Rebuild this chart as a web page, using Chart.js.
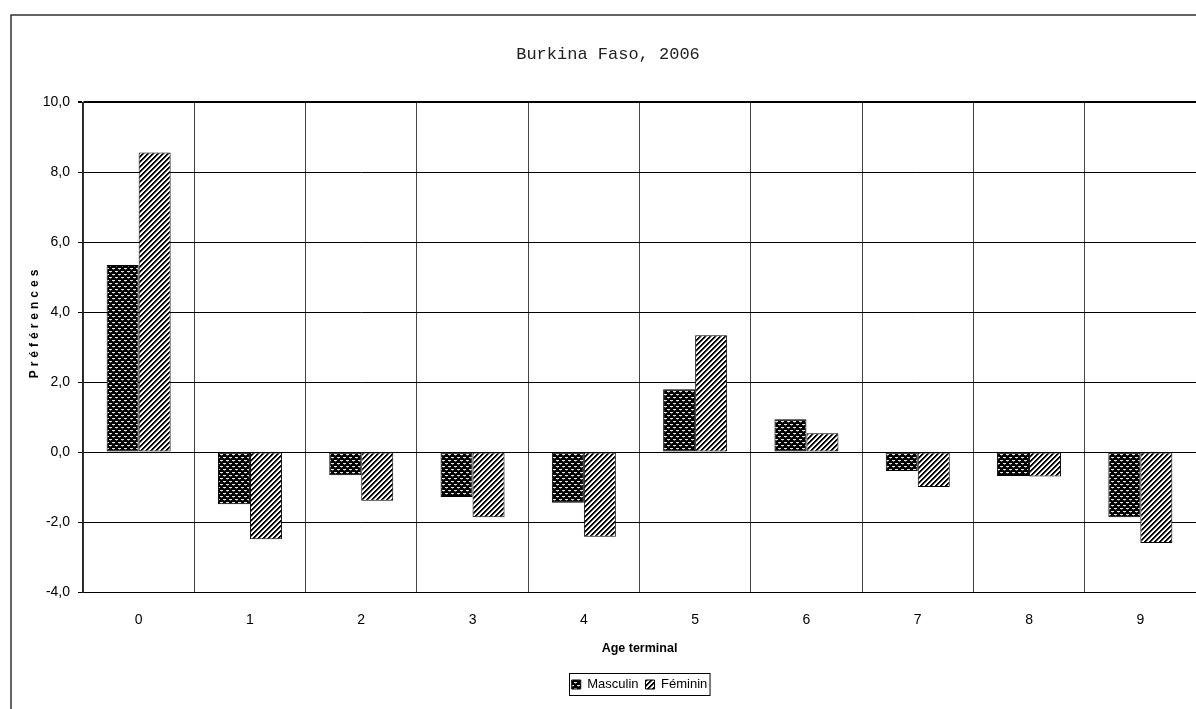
<!DOCTYPE html>
<html>
<head>
<meta charset="utf-8">
<script src="https://cdn.jsdelivr.net/npm/chart.js@4.4.0/dist/chart.umd.min.js"></script>
<style>
html, body { margin: 0; padding: 0; background: #fff; overflow: hidden; }
#wrap { width: 1196px; height: 709px; position: relative; }
</style>
</head>
<body>
<div id="wrap"><canvas id="myChart" width="1196" height="709"></canvas></div>
<script>
var categories = ["0", "1", "2", "3", "4", "5", "6", "7", "8", "9"];
var masculin = [5.35, -1.49, -0.66, -1.28, -1.45, 1.80, 0.94, -0.54, -0.68, -1.86];
var feminin = [8.57, -2.49, -1.39, -1.86, -2.42, 3.34, 0.54, -1.00, -0.70, -2.60];
var seriesNames = ["Masculin", "Féminin"];
var yTicks = [-4, -2, 0, 2, 4, 6, 8, 10];

var sans = "'Liberation Sans', Arial, sans-serif";

// motif "briques" : fond noir, petits ovales clairs en quinconce
function makeDots() {
    var c = document.createElement("canvas");
    c.width = 6; c.height = 6;
    var g = c.getContext("2d");
    g.fillStyle = "#000";
    g.fillRect(0, 0, 6, 6);
    g.fillStyle = "#e4e4e4";
    g.fillRect(1, 1, 3, 1);
    g.fillRect(4, 4, 2, 1);
    g.fillRect(0, 4, 1, 1);
    g.fillStyle = "#666";
    g.fillRect(2, 2, 1, 1);
    g.fillRect(5, 5, 1, 1);
    return g.createPattern(c, "repeat");
}

// motif hachures diagonales "/"
function makeStripes() {
    var c = document.createElement("canvas");
    c.width = 5; c.height = 5;
    var g = c.getContext("2d");
    for (var x = 0; x < 5; x++) {
        for (var y = 0; y < 5; y++) {
            var k = (x + y) % 5;
            g.fillStyle = k < 2 ? "#000" : (k == 2 ? "#888" : "#fff");
            g.fillRect(x, y, 1, 1);
        }
    }
    return g.createPattern(c, "repeat");
}

var framePlugin = {
    id: "frame",
    beforeDraw: function (chart) {
        var ctx = chart.ctx;
        ctx.save();
        ctx.fillStyle = "#fff";
        ctx.fillRect(0, 0, chart.width, chart.height);
        ctx.strokeStyle = "#333";
        ctx.lineWidth = 1.5;
        ctx.strokeRect(11, 15, 1400, 900);
        ctx.restore();
    },
    afterDraw: function (chart) {
        var ctx = chart.ctx;
        // titre vertical espacé
        ctx.save();
        ctx.translate(35, 324);
        ctx.rotate(-Math.PI / 2);
        ctx.font = "bold 12px " + sans;
        ctx.letterSpacing = "4px";
        ctx.fillStyle = "#000";
        ctx.textAlign = "center";
        ctx.textBaseline = "middle";
        ctx.fillText("Préférences", 2, 0);
        ctx.restore();
        // cadre de la légende
        var boxes = chart.legend.legendHitBoxes;
        if (boxes && boxes.length) {
            var l = 1e9, r = -1e9, t = 1e9, b = -1e9;
            boxes.forEach(function (h) {
                l = Math.min(l, h.left); r = Math.max(r, h.left + h.width);
                t = Math.min(t, h.top); b = Math.max(b, h.top + h.height);
            });
            ctx.save();
            ctx.strokeStyle = "#000";
            ctx.lineWidth = 1;
            ctx.strokeRect(Math.round(l) - 2.5, Math.round(t) - 4.5, r - l + 5, b - t + 9);
            ctx.restore();
        }
    }
};

function init_chart() {
    var ctx = document.getElementById("myChart").getContext("2d");
    window.myChart = new Chart(ctx, {
        type: "bar",
        data: {
            labels: categories,
            datasets: [
                {
                    label: seriesNames[0],
                    data: masculin,
                    backgroundColor: makeDots(),
                    borderColor: "#000",
                    borderWidth: 1,
                    borderSkipped: false,
                    barPercentage: 1,
                    categoryPercentage: 0.575,
                },
                {
                    label: seriesNames[1],
                    data: feminin,
                    backgroundColor: makeStripes(),
                    borderColor: "#000",
                    borderWidth: 1,
                    borderSkipped: false,
                    barPercentage: 1,
                    categoryPercentage: 0.575,
                },
            ],
        },
        options: {
            responsive: false,
            animation: false,
            devicePixelRatio: 1,
            layout: { padding: { left: 20, right: 0, top: 0, bottom: 8 } },
            scales: {
                x: {
                    afterFit: function (scale) { scale.height = 79; },
                    grid: { offset: true, color: "#444", lineWidth: 1, drawTicks: false },
                    border: { display: true, color: "#000", width: 1 },
                    ticks: { color: "#000", font: { family: sans, size: 14 }, padding: 20 },
                    title: {
                        display: true,
                        text: "Age terminal",
                        color: "#000",
                        font: { family: sans, size: 12.5, weight: "bold" },
                        padding: { top: 8, bottom: 15 },
                    },
                },
                y: {
                    min: yTicks[0],
                    max: yTicks[yTicks.length - 1],
                    afterFit: function (scale) { scale.width = 63; },
                    afterBuildTicks: function (scale) {
                        scale.ticks = yTicks.map(function (v) { return { value: v }; });
                    },
                    grid: {
                        color: "#000",
                        lineWidth: function (c) { return c.tick && c.tick.value == 10 ? 2 : 1; },
                        tickLength: 5,
                    },
                    border: { display: true, color: "#222", width: 1.5 },
                    ticks: {
                        color: "#000",
                        font: { family: sans, size: 14 },
                        padding: 8,
                        callback: function (v) { return v.toFixed(1).replace(".", ","); },
                    },
                },
            },
            plugins: {
                title: {
                    display: true,
                    text: "Burkina Faso, 2006",
                    color: "#222",
                    font: { family: "'Liberation Mono', 'Courier New', monospace", size: 17, weight: "normal" },
                    padding: { top: 44, bottom: 38 },
                },
                legend: {
                    position: "bottom",
                    fullSize: false,
                    labels: {
                        color: "#000",
                        boxWidth: 9,
                        boxHeight: 9,
                        padding: 7,
                        font: { family: sans, size: 13 },
                    },
                },
                tooltip: { enabled: false },
            },
        },
        plugins: [framePlugin],
    });
}

init_chart();
</script>
</body>
</html>
